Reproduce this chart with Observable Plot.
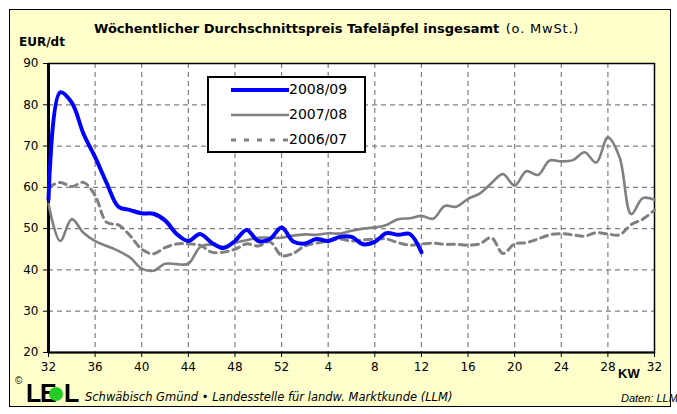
<!DOCTYPE html>
<html><head><meta charset="utf-8">
<script src="https://cdn.jsdelivr.net/npm/d3@7"></script>
<script src="https://cdn.jsdelivr.net/npm/@observablehq/plot@0.6"></script>
<style>
body{margin:0;background:#fff;font-family:"DejaVu Sans",sans-serif;}
#wrap{position:relative;width:677px;height:414px;overflow:hidden;}
#bg{position:absolute;left:9px;top:9px;width:660px;height:396px;background:#ffffcc;border:1px solid #000;}
#chart{position:absolute;left:0;top:0;}
.abs{position:absolute;white-space:nowrap;color:#000;}
#title{left:94px;top:21px;font-size:13px;font-weight:bold;font-family:"DejaVu Sans",sans-serif;}
#title span{font-weight:normal;font-size:13px;letter-spacing:0.8px;margin-left:2px;}
#unit{left:19px;top:35px;font-size:12px;font-weight:bold;font-family:"DejaVu Sans",sans-serif;}
#kw{left:618px;top:366px;font-size:13px;font-weight:bold;font-family:"Liberation Sans",Arial,sans-serif;}
#legend{left:207px;top:76px;width:155px;height:73px;background:#fff;border:2px solid #000;}
.lrow{position:absolute;left:22px;height:18px;font-size:14px;font-family:"DejaVu Sans",sans-serif;}
.lrow svg{position:absolute;left:0;top:4px;}
.lrow span{position:absolute;left:58px;top:0;}
#copy{left:15px;top:375px;font-size:10px;font-family:"Liberation Sans",Arial,sans-serif;}
.logo{position:absolute;top:379px;font-size:25px;font-weight:bold;font-family:"Liberation Sans",Arial,sans-serif;line-height:28px;}
#dot{position:absolute;left:49px;top:387px;width:14px;height:14px;border-radius:50%;background:#22cc22;}
#foot{left:85px;top:390px;font-size:11.5px;font-style:italic;font-family:"DejaVu Sans",sans-serif;}
#src{left:621px;top:392px;font-size:11px;font-style:italic;font-family:"Liberation Sans",Arial,sans-serif;}
</style>
</head><body>
<div id="wrap">
  <div id="bg"></div>
  <div id="chart"></div>
  <div class="abs" id="title">Wöchentlicher Durchschnittspreis Tafeläpfel insgesamt <span>(o. MwSt.)</span></div>
  <div class="abs" id="unit">EUR/dt</div>
  <div class="abs" id="kw">KW</div>
  <div class="abs" id="legend"></div>
  <div class="abs" id="copy">©</div>
  <div class="logo" style="left:26px">L</div>
  <div class="logo" style="left:40px">E</div>
  <div id="dot"></div>
  <div class="logo" style="left:64px">L</div>
  <div class="abs" id="foot">Schwäbisch Gmünd • Landesstelle für landw. Marktkunde (LLM)</div>
  <div class="abs" id="src">Daten: LLM</div>
</div>
<script>
// x tick labels (calendar weeks, KW 32 to KW 32 of following year)
const tickLabels = ["32","36","40","44","48","52","4","8","12","16","20","24","28","32"];
const yTicks = [20,30,40,50,60,70,80,90];
const seriesNames = ["2008/09","2007/08","2006/07"];
// values by week index (0 = KW 32)
const s0809 = [57,83,80.5,73,67.3,61,55.3,54.5,53.7,53.6,52,48.7,47,48.7,46.6,45.3,47,49.7,47,47.5,50.3,46.9,46.4,47.5,47,48,48,46.2,46.8,48.9,48.5,48.7,44.3];
const s0708 = [56,47,52.3,49,47,45.8,44.6,43,40.3,39.8,41.5,41.4,41.5,45.5,46.2,45.6,46.6,47.2,47.8,47.8,47.8,48.3,48.6,48.5,48.9,48.8,49.5,50,50.3,50.9,52.3,52.5,53.1,52.4,55.5,55.3,57.2,58.5,61,63.2,60.4,63.9,63,66.5,66.3,66.6,68.5,66,72.1,67.3,53.5,57.4,57];
const s0607 = [60,61.2,60.2,61.2,58,51.5,50.9,48.3,45,43.9,45.4,46.3,46.3,46,44.3,44.3,45,46.3,45.8,46.8,43.5,44,45.8,46.5,47,47.5,47,47.3,47.5,47.5,46.6,46,46.3,46.5,46.2,46.2,46,46.3,47.8,44,46.3,46.6,47.5,48.5,48.8,48.5,48.2,49,48.7,48.5,51,52.3,54.5];

const toRows = (arr, name) => arr.map((v, i) => ({i, v, name}));
const d0809 = toRows(s0809, seriesNames[0]);
const d0708 = toRows(s0708, seriesNames[1]);
const d0607 = toRows(s0607, seriesNames[2]);
const xTicks = tickLabels.map((_, k) => k * 4);

const chart = Plot.plot({
  width: 677, height: 414,
  marginLeft: 48, marginRight: 23, marginTop: 63, marginBottom: 62,
  style: {background: "transparent", fontFamily: "'DejaVu Sans', sans-serif", fontSize: "12px", color: "#000"},
  x: {domain: [0, 52], ticks: xTicks},
  y: {domain: [20, 90], ticks: yTicks},
  marks: [
    Plot.frame({fill: "white", stroke: "none"}),
    Plot.gridY(yTicks.slice(1, -1), {stroke: "#808080", strokeOpacity: 1, strokeDasharray: "5,4", strokeWidth: 1.2}),
    Plot.gridX(xTicks.slice(1, -1), {stroke: "#808080", strokeOpacity: 1, strokeDasharray: "5,4", strokeWidth: 1.2}),
    Plot.frame({stroke: "#000", strokeWidth: 1.5}),
    Plot.axisY({ticks: yTicks, tickSize: 5, tickPadding: 5, label: null, fontSize: 12}),
    Plot.axisX({ticks: xTicks, tickSize: 5, tickPadding: 5, label: null, fontSize: 12,
      tickFormat: (d) => tickLabels[d / 4]}),
    Plot.ruleX([0], {stroke: "#000", strokeWidth: 3}),
    Plot.ruleY([20], {stroke: "#000", strokeWidth: 2}),
    Plot.line(d0607, {x: "i", y: "v", stroke: "#808080", strokeWidth: 3, strokeDasharray: "7,5", curve: "catmull-rom"}),
    Plot.line(d0708, {x: "i", y: "v", stroke: "#808080", strokeWidth: 2.6, curve: "catmull-rom"}),
    Plot.line(d0809, {x: "i", y: "v", stroke: "#0000ff", strokeWidth: 4, curve: "catmull-rom"})
  ]
});
document.getElementById("chart").appendChild(chart);

// legend
const legendStyles = [
  {stroke: "#0000ff", w: 4, dash: null},
  {stroke: "#808080", w: 2.6, dash: null},
  {stroke: "#808080", w: 3, dash: "5,8"}
];
const leg = document.getElementById("legend");
seriesNames.forEach((name, k) => {
  const row = document.createElement("div");
  row.className = "lrow";
  row.style.top = (3 + k * 25) + "px";
  const st = legendStyles[k];
  row.innerHTML = `<svg width="58" height="10"><line x1="0" y1="5" x2="58" y2="5" stroke="${st.stroke}" stroke-width="${st.w}" ${st.dash ? `stroke-dasharray="${st.dash}"` : ""}/></svg><span>${name}</span>`;
  leg.appendChild(row);
});
</script>
</body></html>
